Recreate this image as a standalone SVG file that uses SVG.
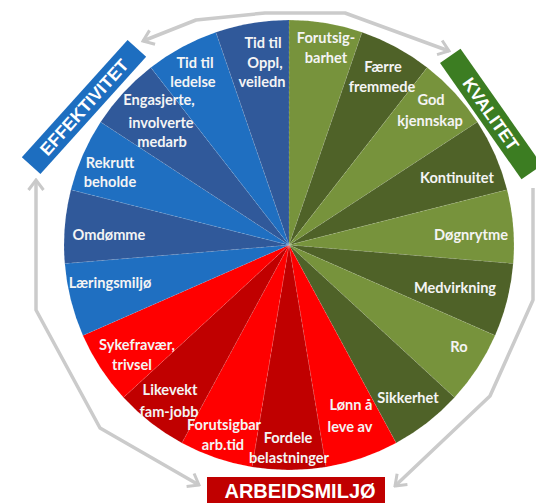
<svg xmlns="http://www.w3.org/2000/svg" width="536" height="503" viewBox="0 0 536 503">
  <defs>
    <marker id="chev" viewBox="-12 -9 14 18" markerWidth="14" markerHeight="18" refX="0" refY="0" orient="auto-start-reverse" markerUnits="userSpaceOnUse">
      <path d="M-10,-7.5 L0,0 L-10,7.5" fill="none" stroke="#c9c9c9" stroke-width="3" stroke-linejoin="miter"/>
    </marker>
    <style>
      .ring { fill: none; stroke: #cbcbcb; stroke-width: 3.5; stroke-linejoin: round; }
      .gl { fill: #77933c; }
      .gd { fill: #4f6228; }
      .rl { fill: #ff0000; }
      .rd { fill: #c00000; }
      .bl { fill: #1f6fc1; }
      .bd { fill: #30599a; }
      .seg { stroke: #ffffff; stroke-opacity: 0.18; stroke-width: 0.7; stroke-dasharray: 3 2; }
      .lbl { font-family: Lato, "Open Sans", sans-serif; font-weight: bold; font-size: 14.6px; fill: #f4f4f4; text-anchor: middle; }
      .head { font-family: "Liberation Sans", Arial, sans-serif; font-weight: bold; fill: #ffffff; text-anchor: middle; }
    </style>
  </defs>

  <rect width="536" height="503" fill="#ffffff"/>

  <!-- circular flow connectors between the three themes -->
  <g id="connectors">
    <path class="ring" d="M449,51 L345,13 L265,13 L196,20 L143,41" marker-start="url(#chev)" marker-end="url(#chev)"/>
    <path class="ring" d="M533,188 L533,300 L490,396 L395,486" marker-end="url(#chev)"/>
    <path class="ring" d="M36,180 L36,310 L100,428 L199,485" marker-start="url(#chev)" marker-end="url(#chev)"/>
  </g>

  <!-- pie: 19 equal wedges, centre (289,245), r 225 -->
  <g id="wedges">
    <path id="w-forutsigbarhet" class="gl seg" d="M289,245 L289,20 A225,225 0 0 1 362.06,32.2 Z"/>
    <path id="w-faerre" class="gd seg" d="M289,245 L362.06,32.2 A225,225 0 0 1 427.2,67.45 Z"/>
    <path id="w-god" class="gl seg" d="M289,245 L427.2,67.45 A225,225 0 0 1 477.4,121.95 Z"/>
    <path id="w-kontinuitet" class="gd seg" d="M289,245 L477.4,121.95 A225,225 0 0 1 507.1,189.8 Z"/>
    <path id="w-dognrytme" class="gl seg" d="M289,245 L507.1,189.8 A225,225 0 0 1 513.2,263.6 Z"/>
    <path id="w-medvirkning" class="gd seg" d="M289,245 L513.2,263.6 A225,225 0 0 1 495.1,335.4 Z"/>
    <path id="w-ro" class="gl seg" d="M289,245 L495.1,335.4 A225,225 0 0 1 454.5,397.4 Z"/>
    <path id="w-sikkerhet" class="gd seg" d="M289,245 L454.5,397.4 A225,225 0 0 1 396.1,442.9 Z"/>
    <path id="w-lonn" class="rl seg" d="M289,245 L396.1,442.9 A225,225 0 0 1 326,466.9 Z"/>
    <path id="w-fordele" class="rd seg" d="M289,245 L326,466.9 A225,225 0 0 1 252,466.9 Z"/>
    <path id="w-forutsigbar" class="rl seg" d="M289,245 L252,466.9 A225,225 0 0 1 181.9,442.9 Z"/>
    <path id="w-likevekt" class="rd seg" d="M289,245 L181.9,442.9 A225,225 0 0 1 123.5,397.4 Z"/>
    <path id="w-sykefravaer" class="rl seg" d="M289,245 L123.5,397.4 A225,225 0 0 1 82.9,335.4 Z"/>
    <path id="w-laeringsmiljo" class="bl seg" d="M289,245 L82.9,335.4 A225,225 0 0 1 64.8,263.6 Z"/>
    <path id="w-omdomme" class="bd seg" d="M289,245 L64.8,263.6 A225,225 0 0 1 70.9,189.8 Z"/>
    <path id="w-rekrutt" class="bl seg" d="M289,245 L70.9,189.8 A225,225 0 0 1 100.6,121.95 Z"/>
    <path id="w-engasjerte" class="bd seg" d="M289,245 L100.6,121.95 A225,225 0 0 1 150.8,67.45 Z"/>
    <path id="w-tid-ledelse" class="bl seg" d="M289,245 L150.8,67.45 A225,225 0 0 1 215.9,32.2 Z"/>
    <path id="w-tid-oppl" class="bd seg" d="M289,245 L215.9,32.2 A225,225 0 0 1 289,20 Z"/>
  </g>

  <!-- wedge labels, painted above all wedges so they can run over a boundary -->
  <g id="labels">
    <g id="l-forutsigbarhet">
      <text class="lbl" x="326" y="43">Forutsig-</text>
      <text class="lbl" x="326" y="63">barhet</text>
    </g>
    <g id="l-faerre">
      <text class="lbl" x="383" y="72">Færre</text>
      <text class="lbl" x="382" y="92">fremmede</text>
    </g>
    <g id="l-god">
      <text class="lbl" x="431" y="105">God</text>
      <text class="lbl" x="430" y="126">kjennskap</text>
    </g>
    <g id="l-kontinuitet"><text class="lbl" x="457" y="183">Kontinuitet</text></g>
    <g id="l-dognrytme"><text class="lbl" x="471" y="240">Døgnrytme</text></g>
    <g id="l-medvirkning"><text class="lbl" x="455" y="293">Medvirkning</text></g>
    <g id="l-ro"><text class="lbl" x="459" y="352">Ro</text></g>
    <g id="l-sikkerhet"><text class="lbl" x="408" y="403">Sikkerhet</text></g>
    <g id="l-lonn">
      <text class="lbl" x="351" y="410">Lønn å</text>
      <text class="lbl" x="350" y="432">leve av</text>
    </g>
    <g id="l-fordele">
      <text class="lbl" x="288" y="443">Fordele</text>
      <text class="lbl" x="289" y="463">belastninger</text>
    </g>
    <g id="l-forutsigbar">
      <text class="lbl" x="224" y="430">Forutsigbar</text>
      <text class="lbl" x="223" y="450">arb.tid</text>
    </g>
    <g id="l-likevekt">
      <text class="lbl" x="170" y="395">Likevekt</text>
      <text class="lbl" x="169" y="417">fam-jobb</text>
    </g>
    <g id="l-sykefravaer">
      <text class="lbl" x="137" y="350">Sykefravær,</text>
      <text class="lbl" x="132" y="370">trivsel</text>
    </g>
    <g id="l-laeringsmiljo"><text class="lbl" x="110" y="288">Læringsmiljø</text></g>
    <g id="l-omdomme"><text class="lbl" x="109" y="240">Omdømme</text></g>
    <g id="l-rekrutt">
      <text class="lbl" x="110" y="168">Rekrutt</text>
      <text class="lbl" x="110" y="187">beholde</text>
    </g>
    <g id="l-engasjerte">
      <text class="lbl" x="159" y="105">Engasjerte,</text>
      <text class="lbl" x="161" y="128">involverte</text>
      <text class="lbl" x="162" y="147">medarb</text>
    </g>
    <g id="l-tid-ledelse">
      <text class="lbl" x="195" y="68">Tid til</text>
      <text class="lbl" x="193" y="87">ledelse</text>
    </g>
    <g id="l-tid-oppl">
      <text class="lbl" x="263" y="48">Tid til</text>
      <text class="lbl" x="265" y="68">Oppl,</text>
      <text class="lbl" x="262" y="87">veiledn</text>
    </g>
  </g>

  <!-- theme headers -->
  <g id="effektivitet" transform="translate(84,107) rotate(-48)">
    <rect x="-79" y="-12.5" width="158" height="25" fill="#1d6ec0"/>
    <text class="head" x="0" y="6.3" font-size="17.5">EFFEKTIVITET</text>
  </g>
  <g id="kvalitet" transform="translate(491,114) rotate(55)">
    <rect x="-71" y="-12.5" width="142" height="25" fill="#3c7d22"/>
    <text class="head" x="0" y="6.3" font-size="17.5">KVALITET</text>
  </g>
  <g id="arbeidsmiljo">
    <rect x="207" y="477" width="178" height="30" fill="#c00000"/>
    <text class="head" x="300" y="497.5" font-size="20">ARBEIDSMILJØ</text>
  </g>
</svg>
